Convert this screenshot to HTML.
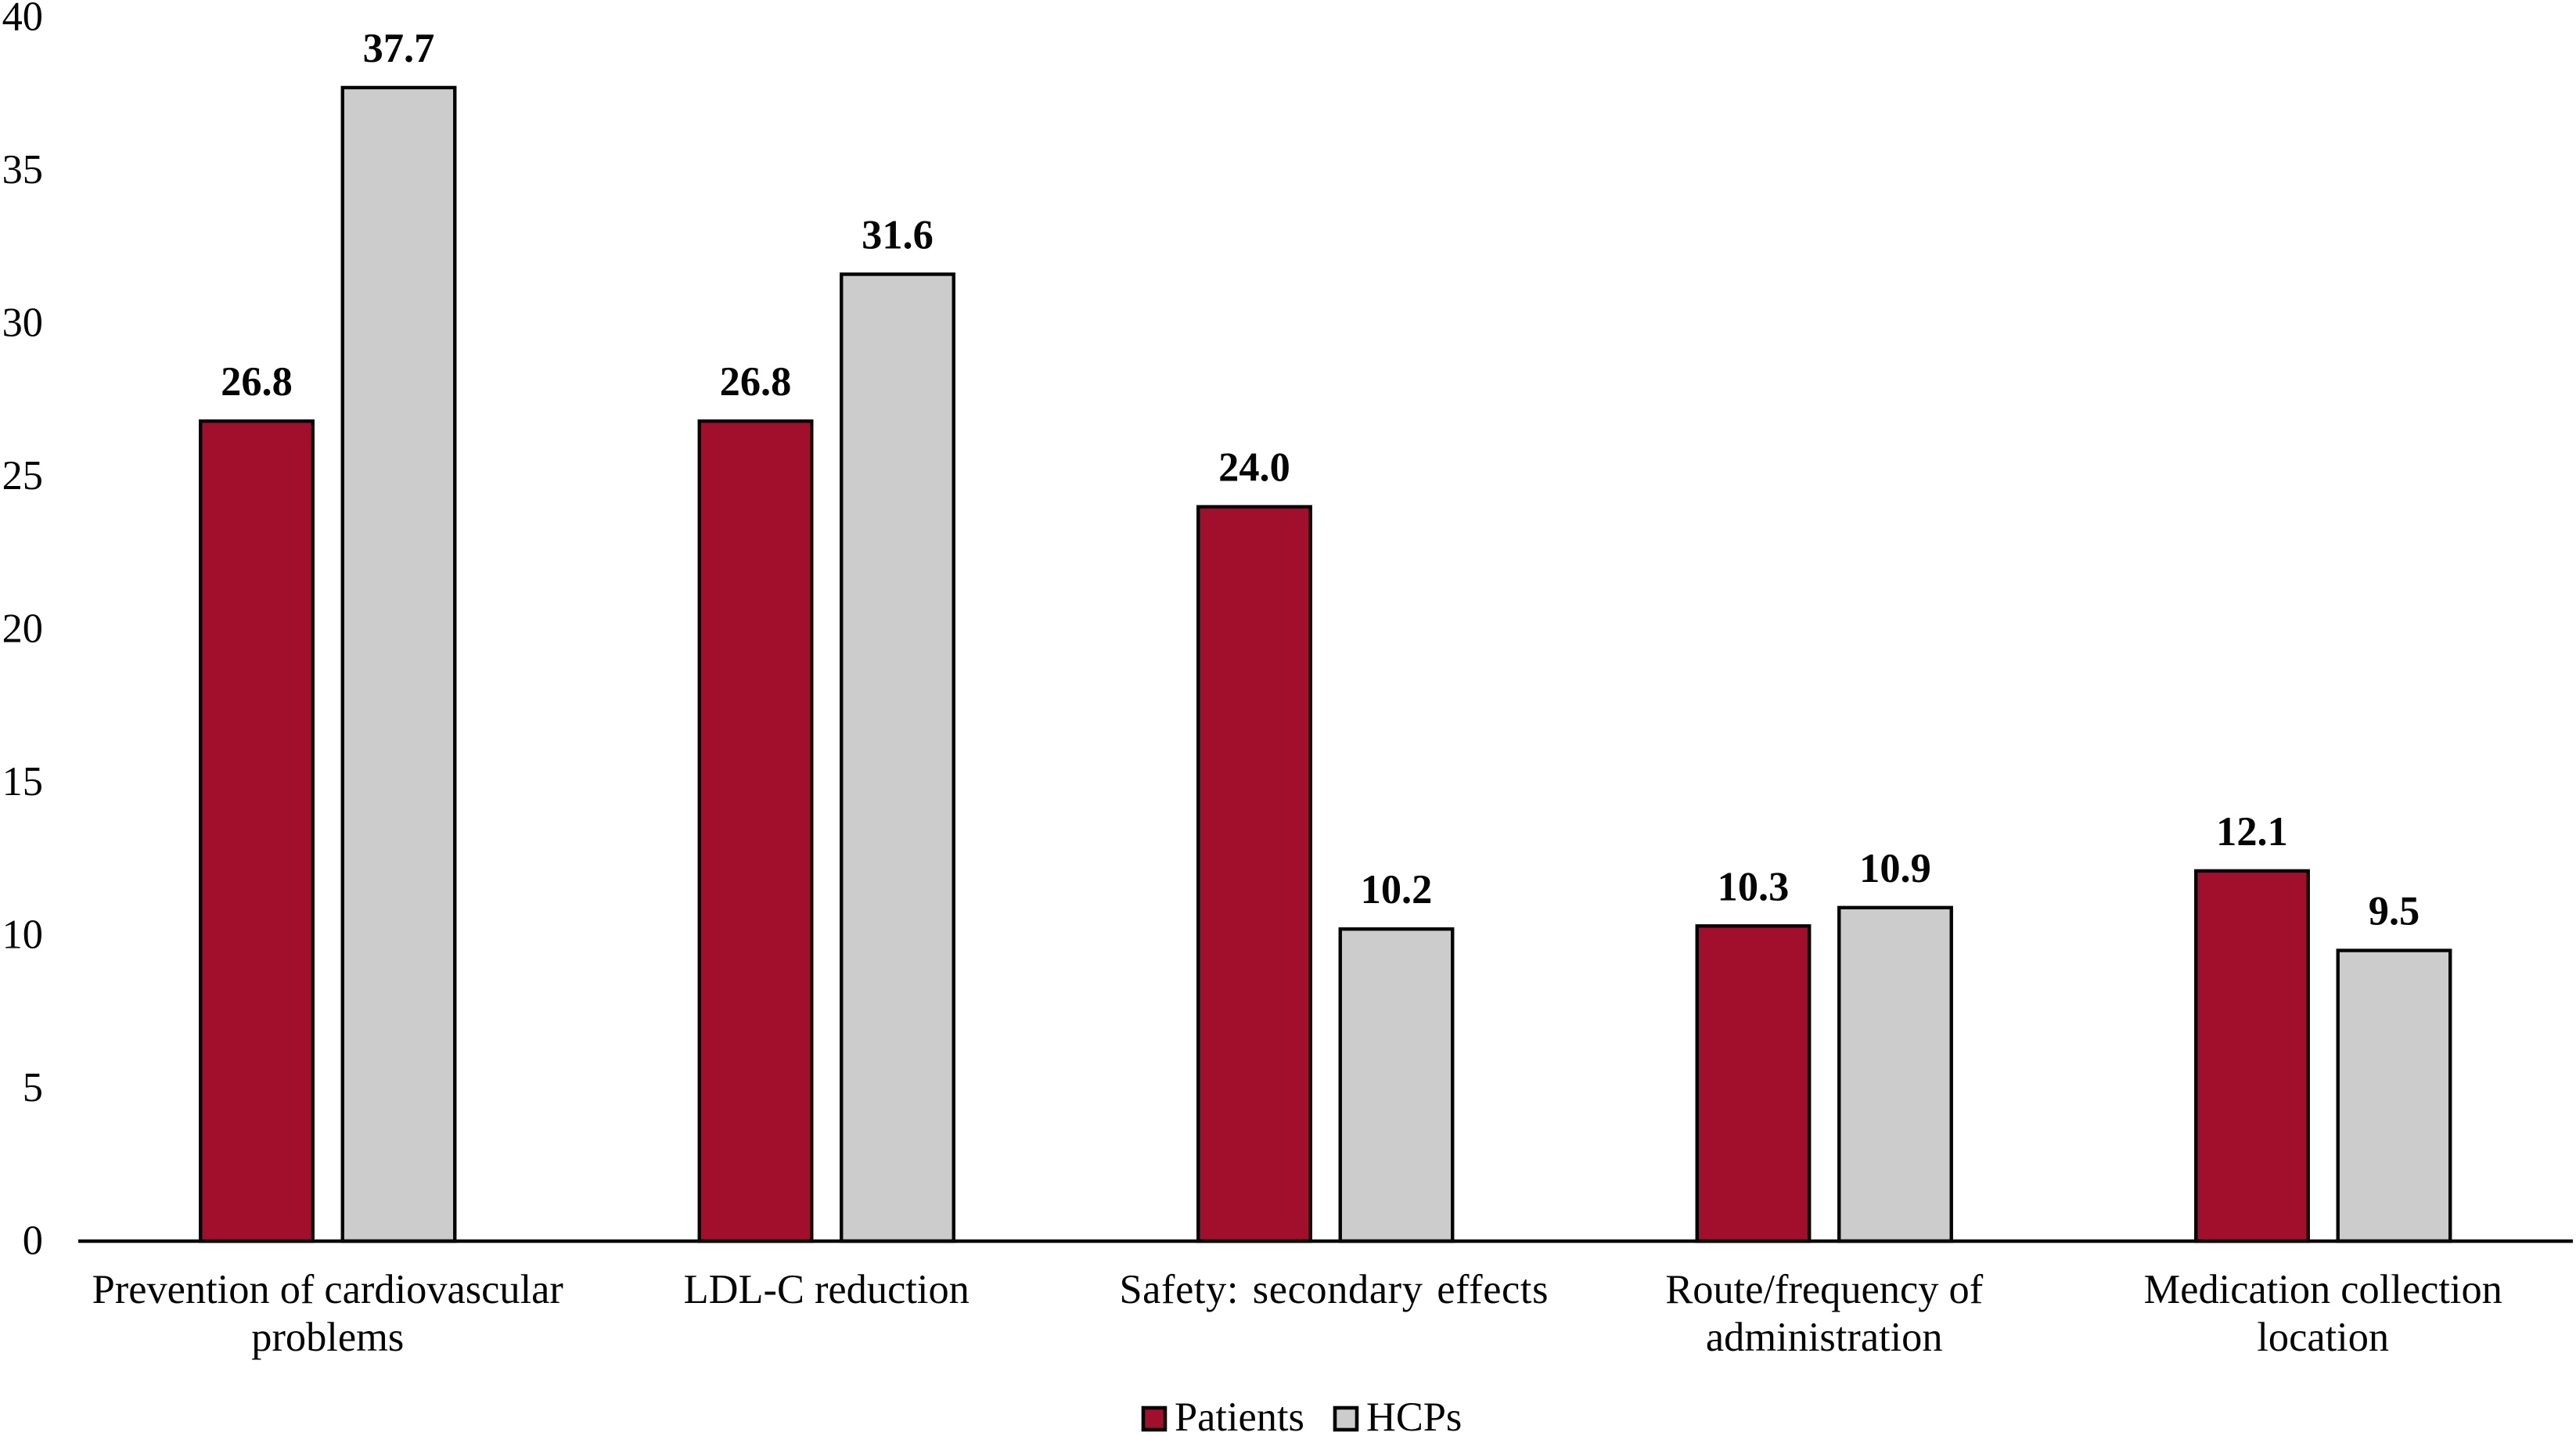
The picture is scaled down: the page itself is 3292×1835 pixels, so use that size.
<!DOCTYPE html>
<html lang="en">
<head>
<meta charset="utf-8">
<title>Patients vs HCPs bar chart</title>
<style>
  html, body { margin: 0; padding: 0; background: #ffffff; }
  #chart { display: block; width: 3292px; height: 1835px; }
  text { font-family: "Liberation Serif", "Times New Roman", serif; fill: #050505; font-size: 52.4px; }
  .value { font-weight: bold; }
  .wide-label { letter-spacing: 0.6px; word-spacing: 4px; }
</style>
</head>
<body>
<svg id="chart" xmlns="http://www.w3.org/2000/svg" width="3292" height="1835" viewBox="0 0 3292 1835">
  <g id="y-ticks"></g>
  <g id="bars"></g>
  <g id="values"></g>
  <line x1="100" y1="1586" x2="3288" y2="1586" stroke="#0a0a0a" stroke-width="4.4"/>
  <g id="x-labels"></g>
  <g>
    <g>
      <rect x="1461" y="1799" width="28" height="28" fill="#a20f2d" stroke="#050505" stroke-width="4.6"/>
      <text x="1501" y="1828">Patients</text>
    </g>
    <g>
      <rect x="1706" y="1799" width="28" height="28" fill="#cccccc" stroke="#050505" stroke-width="4.6"/>
      <text x="1746" y="1828">HCPs</text>
    </g>
  </g>
</svg>
<script>
const categories = [
  ["Prevention of cardiovascular", "problems"],
  ["LDL-C reduction"],
  ["Safety: secondary effects"],
  ["Route/frequency of", "administration"],
  ["Medication collection", "location"]
];
const patients = [26.8, 26.8, 24.0, 10.3, 12.1];
const hcps = [37.7, 31.6, 10.2, 10.9, 9.5];
const yTicks = [0, 5, 10, 15, 20, 25, 30, 35, 40];

const NS = "http://www.w3.org/2000/svg";
const yZero = 1586;
const yPerUnit = 39.1;
const xStart = 100;
const groupWidth = 637.5;
const barWidth = 143.5;
const barGap = 38;
const wideLabelIndex = 2;
const wideLabelShift = 11;

function yScale(v) { return yZero - v * yPerUnit; }
function groupCenter(i) { return xStart + groupWidth * (i + 0.5); }
function barLeft(i, s) {
  const total = barWidth * 2 + barGap;
  return groupCenter(i) - total / 2 + s * (barWidth + barGap);
}

const tickGroup = document.getElementById("y-ticks");
yTicks.forEach(function (t) {
  const el = document.createElementNS(NS, "text");
  
  
  el.setAttribute("x", 55);
  el.setAttribute("y", yScale(t) + 16.5);
  el.setAttribute("text-anchor", "end");
  el.textContent = String(t);
  tickGroup.appendChild(el);
});

const barGroup = document.getElementById("bars");
const valueGroup = document.getElementById("values");
[patients, hcps].forEach(function (series, s) {
  series.forEach(function (v, i) {
    const r = document.createElementNS(NS, "rect");
    
    
    r.setAttribute("x", barLeft(i, s));
    r.setAttribute("y", yScale(v));
    r.setAttribute("width", barWidth);
    r.setAttribute("height", yZero - yScale(v));
    r.setAttribute("fill", s === 0 ? "#a20f2d" : "#cccccc");
    r.setAttribute("stroke", "#050505");
    r.setAttribute("stroke-width", 4.4);
    barGroup.appendChild(r);

    const l = document.createElementNS(NS, "text");
    
    
    l.setAttribute("class", "value");
    l.setAttribute("x", barLeft(i, s) + barWidth / 2);
    l.setAttribute("y", yScale(v) - 33);
    l.setAttribute("text-anchor", "middle");
    l.textContent = v.toFixed(1);
    valueGroup.appendChild(l);
  });
});

const labelGroup = document.getElementById("x-labels");
categories.forEach(function (lines, i) {
  lines.forEach(function (line, k) {
    const t = document.createElementNS(NS, "text");
    
    
    t.setAttribute("x", groupCenter(i) + (i === wideLabelIndex ? wideLabelShift : 0));
    t.setAttribute("y", 1665 + k * 61);
    t.setAttribute("text-anchor", "middle");
    if (i === wideLabelIndex) t.setAttribute("class", "wide-label");
    t.textContent = line;
    labelGroup.appendChild(t);
  });
});
</script>
</body>
</html>
